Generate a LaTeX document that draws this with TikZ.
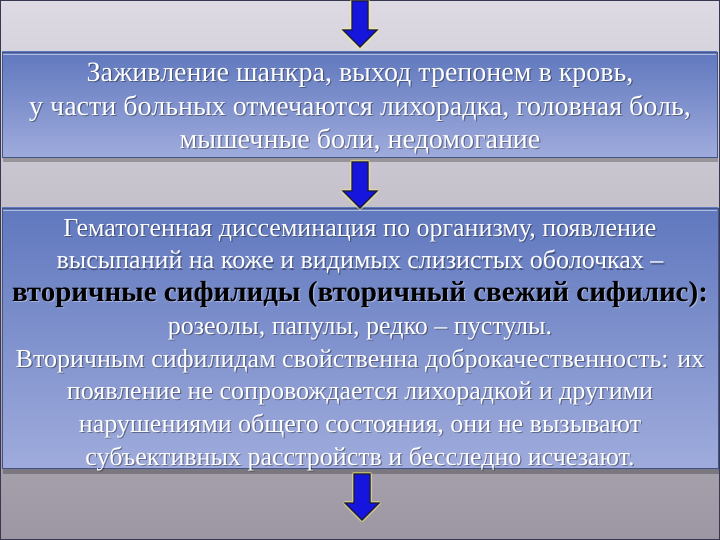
\documentclass[tikz,border=0pt]{standalone}
\usepackage{fontspec}
\setmainfont{Liberation Serif}
\usetikzlibrary{positioning, calc}

\definecolor{bgtop}{HTML}{DEDAE4}
\definecolor{bgbot}{HTML}{9C97A2}
\definecolor{boxtop}{HTML}{6078BE}
\definecolor{boxbot}{HTML}{9FABDC}
\definecolor{arrowblue}{HTML}{1515DD}
\definecolor{arrowrim}{HTML}{1A1A40}

\begin{document}
\begin{tikzpicture}[x=1pt, y=-1pt,
            panel/.style={draw=boxtop!70!black, line width=0.8pt, top color=boxtop, bottom color=boxbot},
            arrowline/.style={draw=arrowrim, fill=arrowblue, line width=1.2pt, line join=miter},
            glowline/.style={draw=yellow!60!white, line width=4pt, opacity=0.5, line join=round},
            bodytext/.style={text=white, align=center, font=\fontsize{28}{33.5}\selectfont},
            smalltext/.style={bodytext, font=\fontsize{26}{32.7}\selectfont},
            textshadow/.style={text=black, opacity=0.35},
            downarrow/.pic={
                \path[glowline] (-8,0) -- (8,0) -- (8,29) -- (17,29) -- (0,46) -- (-17,29) -- (-8,29) -- cycle;
                \path[arrowline] (-8,0) -- (8,0) -- (8,29) -- (17,29) -- (0,46) -- (-17,29) -- (-8,29) -- cycle;
            }
            ]

        % background
        \useasboundingbox (0,0) rectangle (720,540);
        \shade[top color=bgtop, bottom color=bgbot] (0,0) rectangle (720,540);
        \draw[arrowrim!70!gray, line width=2pt] (0,0) rectangle (720,540);

        % panels
        \fill[black, opacity=0.25] (3,157) rectangle (718,162);
        \fill[black, opacity=0.25] (3,468) rectangle (719,474);
        \path[panel] (2,52) rectangle (717,157);
        \path[panel] (2,208) rectangle (718,468);
        \draw[white, opacity=0.5, line width=1pt] (3,55) -- (716,55);
        \draw[white, opacity=0.5, line width=1pt] (3,211) -- (717,211);

        % arrows
        \pic at (360,1) {downarrow};
        \pic at (360,162) {downarrow};
        \pic at (362,474) {downarrow};

        % texts
        \node[bodytext, textshadow] (firstshadow) at (361.2,109.7) {Заживление шанкра, выход трепонем в кровь,\\
            у части больных отмечаются лихорадка, головная боль,\\
            мышечные боли, недомогание};
        \node[bodytext] (first) at (360,108.5) {Заживление шанкра, выход трепонем в кровь,\\
            у части больных отмечаются лихорадка, головная боль,\\
            мышечные боли, недомогание};

        \node[smalltext, textshadow] (secondshadow) at (361.2,346.2) {Гематогенная диссеминация по организму, появление\\
            высыпаний на коже и видимых слизистых оболочках –\\
            {\fontsize{29}{32.7}\selectfont\bfseries\color{white}вторичные сифилиды (вторичный свежий сифилис):}\\
            розеолы, папулы, редко – пустулы.\\
            Вторичным сифилидам свойственна доброкачественность: их\\
            появление не сопровождается лихорадкой и другими\\
            нарушениями общего состояния, они не вызывают\\
            субъективных расстройств и бесследно исчезают.};
        \node[smalltext] (second) at (360,345) {Гематогенная диссеминация по организму, появление\\
            высыпаний на коже и видимых слизистых оболочках –\\
            {\fontsize{29}{32.7}\selectfont\bfseries\color{black}вторичные сифилиды (вторичный свежий сифилис):}\\
            розеолы, папулы, редко – пустулы.\\
            Вторичным сифилидам свойственна доброкачественность: их\\
            появление не сопровождается лихорадкой и другими\\
            нарушениями общего состояния, они не вызывают\\
            субъективных расстройств и бесследно исчезают.};
\end{tikzpicture}
\end{document}
